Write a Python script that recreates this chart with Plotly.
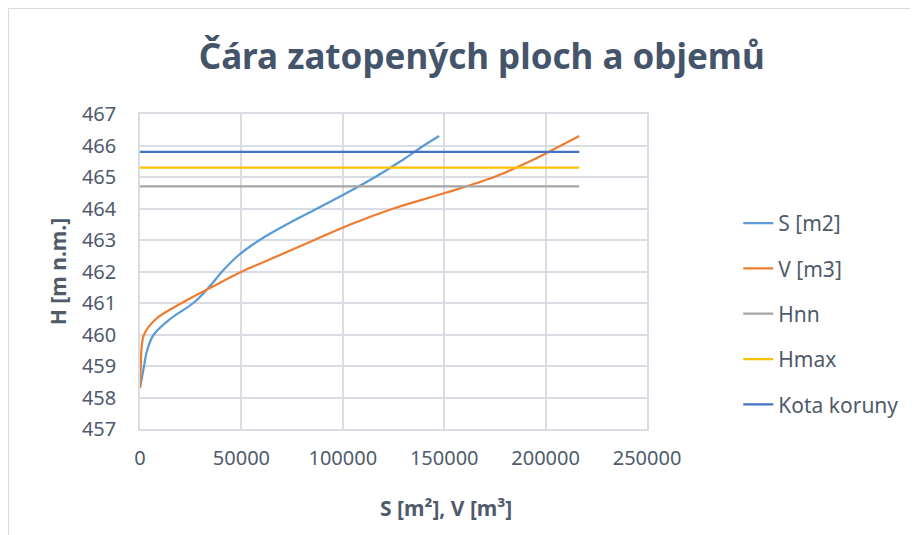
"""Čára zatopených ploch a objemů – Excel style line chart in Plotly."""

import plotly.graph_objects as go

# water level H [m n.m.]
h_levels = [458.3, 459.0, 459.5, 460.0, 460.5, 461.0, 461.5, 462.0, 462.5,
            463.0, 463.5, 464.0, 464.5, 465.0, 465.5, 466.0, 466.3]
# flooded area S [m2]
area_s = [0, 2000, 3500, 6800, 15000, 26300, 34000, 40500, 48300,
          59000, 72500, 87400, 102100, 116000, 128500, 140000, 147500]
# volume V [m3]
volume_v = [0, 400, 700, 2000, 8000, 20600, 35200, 50300, 68200,
            86000, 104000, 125000, 150700, 174600, 192300, 207600, 216600]

# horizontal reference levels
level_x = [0, 216600]
h_nn = 464.7
h_max = 465.3
kota_koruny = 465.8

font_family = "Noto Sans, Open Sans, sans-serif"
text_color = "#4F5B6B"
grid_color = "#d9dce2"

fig = go.Figure()
fig.add_trace(go.Scatter(x=area_s, y=h_levels, mode="lines", name="S [m2]", legendgroup="s",
                         line=dict(color="#5B9BD5", width=2.25, shape="spline", smoothing=1)))
fig.add_trace(go.Scatter(x=volume_v, y=h_levels, mode="lines", name="V [m3]", legendgroup="v",
                         line=dict(color="#ED7D31", width=2.25, shape="spline", smoothing=1)))
fig.add_trace(go.Scatter(x=level_x, y=[h_nn, h_nn], mode="lines", name="Hnn", legendgroup="nn",
                         line=dict(color="#A5A5A5", width=2.25)))
fig.add_trace(go.Scatter(x=level_x, y=[h_max, h_max], mode="lines", name="Hmax", legendgroup="max",
                         line=dict(color="#FFC000", width=2.25)))
fig.add_trace(go.Scatter(x=level_x, y=[kota_koruny, kota_koruny], mode="lines", name="Kota koruny",
                         legendgroup="kk", line=dict(color="#4472C4", width=2.25)))

fig.update_layout(
    width=918,
    height=535,
    paper_bgcolor="white",
    plot_bgcolor="white",
    font=dict(family=font_family, color=text_color, size=20),
    title=dict(text="<b>Čára zatopených ploch a objemů</b>", x=0.516, xanchor="center",
               y=0.908, yanchor="middle", font=dict(size=35, color="#44546A")),
    margin=dict(l=132, r=279, t=106, b=114),
    legend=dict(x=1.18, y=0.7175, xanchor="left", yanchor="top", tracegroupgap=15,
                font=dict(size=21, color=text_color)),
    shapes=[dict(type="rect", xref="paper", yref="paper", x0=-0.2594, x1=1.8, y0=-0.6, y1=1.3349,
                 line=dict(color="#d9d9d9", width=1), layer="below")],
    annotations=[dict(text="<b>S [m²], V [m³]</b>", xref="paper", yref="paper", x=0.6036, y=-0.251,
                      xanchor="center", yanchor="middle", showarrow=False,
                      font=dict(size=21, color=text_color))],
)
fig.update_xaxes(range=[0, 250000], dtick=50000, tickformat="d", showgrid=True, gridcolor=grid_color,
                 gridwidth=1.5, zeroline=False, showline=True, linecolor=grid_color, linewidth=1.5, mirror=True,
                 ticks="", ticklabelstandoff=10, tickfont=dict(size=20))
fig.update_yaxes(range=[457, 467], dtick=1, showgrid=True, gridcolor=grid_color, gridwidth=1.5,
                 zeroline=False, showline=True, linecolor=grid_color, linewidth=1.5, mirror=True, ticks="",
                 ticklabelstandoff=18, tickfont=dict(size=20),
                 title=dict(text="<b>H [m n.m.]</b>", font=dict(size=21, color=text_color), standoff=10))

fig.write_html("out.html")
